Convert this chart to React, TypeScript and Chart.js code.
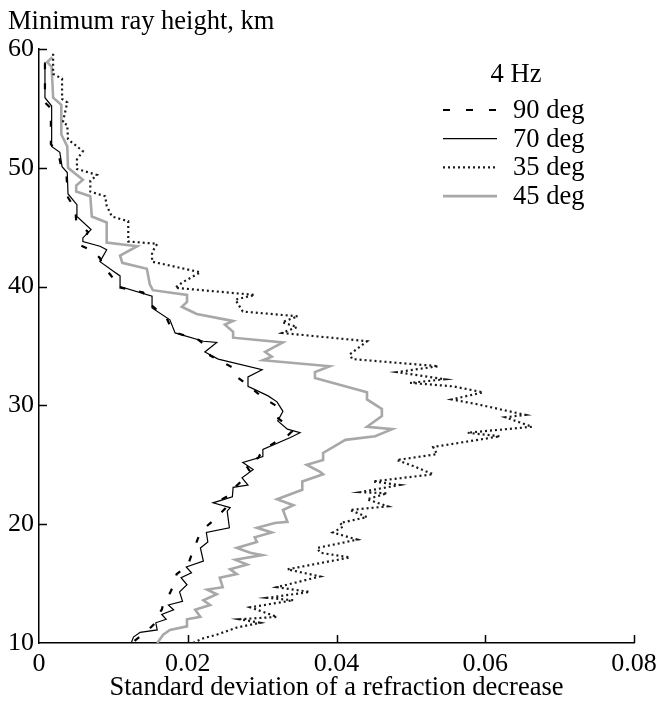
import React, { useEffect, useRef } from 'react';
import { Chart, registerables } from 'chart.js';

Chart.register(...registerables);

const FONT = "'Liberation Serif', 'Times New Roman', serif";

// Axis / legend texts
const yAxisTitle = 'Minimum ray height, km';
const xAxisTitle = 'Standard deviation of a refraction decrease';
const legendTitle = '4 Hz';
const seriesLabels = ['90 deg', '70 deg', '35 deg', '45 deg'];

// Minimum ray height (km) and standard deviation for each zenith angle
const heights90 = [58.8, 55.5, 55.0, 52.0, 51.0, 50.0, 49.3, 47.5, 46.5, 45.5, 44.6, 44.0, 43.5, 43.0, 42.4, 41.8, 41.0, 40.5, 40.0, 39.5, 38.5, 37.3, 36.2, 35.5, 34.8, 34.2, 33.2, 32.6, 31.5, 30.7, 30.0, 29.2, 28.5, 27.8, 27.5, 27.0, 26.2, 25.6, 25.0, 24.5, 23.8, 23.2, 22.5, 21.9, 21.3, 20.5, 19.8, 19.0, 18.2, 17.4, 16.5, 15.8, 15.0, 14.2, 13.5, 12.8, 12.2, 11.6, 11.0, 10.5, 10.0];
const values90 = [0.0008, 0.0008, 0.0016, 0.0016, 0.0027, 0.0030, 0.0037, 0.0039, 0.0049, 0.0050, 0.0066, 0.0060, 0.0055, 0.0072, 0.0082, 0.0085, 0.0096, 0.0102, 0.0103, 0.0140, 0.0150, 0.0172, 0.0180, 0.0215, 0.0228, 0.0230, 0.0260, 0.0262, 0.0285, 0.0300, 0.0318, 0.0316, 0.0330, 0.0340, 0.0335, 0.0320, 0.0300, 0.0295, 0.0278, 0.0283, 0.0275, 0.0265, 0.0258, 0.0240, 0.0250, 0.0238, 0.0225, 0.0215, 0.0210, 0.0205, 0.0200, 0.0185, 0.0182, 0.0176, 0.0168, 0.0165, 0.0158, 0.0155, 0.0145, 0.0135, 0.0125];

const heights70 = [58.9, 55.9, 55.2, 51.8, 51.3, 50.1, 49.6, 47.8, 46.9, 45.9, 44.8, 44.1, 43.8, 43.4, 43.1, 42.1, 41.3, 40.9, 40.0, 39.2, 38.2, 37.2, 36.1, 35.4, 35.3, 34.5, 33.9, 33.0, 32.4, 31.6, 30.8, 30.3, 29.5, 28.7, 28.0, 27.7, 27.3, 26.3, 25.7, 25.2, 24.6, 23.9, 23.3, 23.1, 22.3, 21.8, 21.4, 21.1, 19.7, 19.3, 18.5, 18.0, 16.9, 16.4, 15.9, 15.5, 14.9, 14.3, 13.5, 13.2, 12.8, 12.4, 12.0, 11.7, 11.1, 10.9, 10.5, 10.0];
const values70 = [0.0008, 0.0008, 0.0017, 0.0017, 0.0028, 0.0031, 0.0038, 0.0039, 0.0051, 0.0051, 0.0070, 0.0059, 0.0059, 0.0082, 0.0091, 0.0082, 0.0100, 0.0109, 0.0109, 0.0152, 0.0152, 0.0176, 0.0183, 0.0221, 0.0239, 0.0223, 0.0241, 0.0300, 0.0281, 0.0281, 0.0308, 0.0320, 0.0328, 0.0321, 0.0334, 0.0351, 0.0338, 0.0301, 0.0301, 0.0274, 0.0288, 0.0273, 0.0281, 0.0261, 0.0260, 0.0234, 0.0257, 0.0253, 0.0256, 0.0225, 0.0227, 0.0217, 0.0221, 0.0198, 0.0205, 0.0191, 0.0199, 0.0189, 0.0193, 0.0174, 0.0181, 0.0165, 0.0171, 0.0157, 0.0159, 0.0136, 0.0127, 0.0124];

const heights35 = [59.6, 57.9, 57.5, 55.8, 55.5, 53.8, 53.6, 52.4, 51.4, 50.7, 49.9, 49.4, 48.9, 48.0, 47.6, 46.8, 45.9, 45.5, 43.8, 43.6, 42.9, 42.1, 41.2, 40.4, 39.9, 39.3, 38.9, 37.9, 37.5, 37.0, 36.6, 36.1, 35.4, 34.3, 33.9, 33.3, 32.8, 32.2, 31.9, 31.6, 31.1, 30.5, 30.1, 29.2, 29.0, 28.2, 27.7, 27.4, 26.5, 25.9, 25.4, 24.9, 24.2, 23.6, 23.3, 22.7, 22.6, 22.1, 21.5, 21.2, 20.6, 20.1, 19.8, 19.3, 18.7, 18.0, 17.6, 17.2, 16.2, 15.6, 14.7, 14.3, 13.8, 13.6, 13.0, 12.2, 12.0, 11.7, 11.3, 10.7, 10.4, 10.0];
const values35 = [0.0019, 0.0019, 0.0031, 0.0031, 0.0038, 0.0032, 0.0038, 0.0039, 0.0059, 0.0051, 0.0051, 0.0078, 0.0069, 0.0069, 0.0089, 0.0091, 0.0098, 0.0120, 0.0120, 0.0159, 0.0152, 0.0152, 0.0217, 0.0194, 0.0183, 0.0290, 0.0264, 0.0274, 0.0348, 0.0327, 0.0347, 0.0327, 0.0441, 0.0418, 0.0421, 0.0537, 0.0481, 0.0546, 0.0499, 0.0557, 0.0597, 0.0555, 0.0589, 0.0654, 0.0627, 0.0663, 0.0576, 0.0620, 0.0530, 0.0535, 0.0481, 0.0503, 0.0530, 0.0449, 0.0485, 0.0432, 0.0468, 0.0441, 0.0469, 0.0418, 0.0441, 0.0405, 0.0409, 0.0395, 0.0428, 0.0374, 0.0378, 0.0418, 0.0334, 0.0378, 0.0320, 0.0364, 0.0307, 0.0342, 0.0284, 0.0320, 0.0270, 0.0297, 0.0266, 0.0239, 0.0221, 0.0207];

const heights45 = [59.3, 58.9, 58.5, 55.9, 55.3, 52.8, 51.8, 50.0, 49.0, 48.5, 48.0, 47.6, 45.9, 45.4, 43.7, 43.4, 42.6, 42.0, 41.5, 40.2, 39.7, 39.3, 38.7, 38.3, 37.7, 37.2, 37.1, 36.8, 36.2, 35.7, 35.3, 34.5, 34.1, 33.8, 33.3, 32.8, 32.3, 31.1, 30.5, 29.7, 29.1, 28.2, 28.0, 27.4, 27.1, 26.0, 25.4, 25.0, 24.4, 24.2, 23.6, 22.9, 22.1, 21.6, 21.2, 20.2, 20.1, 19.7, 19.3, 18.9, 18.5, 18.0, 17.6, 17.4, 17.0, 16.6, 16.2, 15.8, 15.5, 14.7, 14.5, 14.1, 13.6, 13.2, 12.8, 12.2, 12.0, 11.4, 11.1, 10.7, 10.0];
const values45 = [0.0018, 0.0011, 0.0017, 0.0019, 0.0030, 0.0030, 0.0038, 0.0039, 0.0059, 0.0050, 0.0050, 0.0069, 0.0071, 0.0091, 0.0091, 0.0132, 0.0109, 0.0112, 0.0145, 0.0149, 0.0153, 0.0199, 0.0199, 0.0192, 0.0212, 0.0253, 0.0261, 0.0250, 0.0261, 0.0261, 0.0328, 0.0304, 0.0313, 0.0301, 0.0391, 0.0371, 0.0371, 0.0441, 0.0441, 0.0461, 0.0461, 0.0441, 0.0475, 0.0452, 0.0412, 0.0382, 0.0382, 0.0360, 0.0378, 0.0382, 0.0354, 0.0354, 0.0320, 0.0342, 0.0328, 0.0334, 0.0317, 0.0293, 0.0313, 0.0290, 0.0293, 0.0266, 0.0284, 0.0300, 0.0264, 0.0280, 0.0257, 0.0266, 0.0243, 0.0247, 0.0226, 0.0239, 0.0221, 0.0230, 0.0210, 0.0217, 0.0199, 0.0199, 0.0176, 0.0167, 0.0159];

const toPoints = (heights: number[], values: number[]) =>
  heights.map((h, i) => ({ x: values[i], y: h }));

const TEXT_SIZE = 26.5;

const inwardTicks = {
  id: 'inwardTicks',
  afterDraw(chart: any) {
    const { ctx, chartArea, scales } = chart;
    const len = 8;
    ctx.save();
    ctx.strokeStyle = '#000';
    ctx.lineWidth = 1.5;
    ctx.beginPath();
    scales.x.ticks.forEach((t: any) => {
      if (Math.abs(t.value) < 1e-9) return;
      const px = Math.round(scales.x.getPixelForValue(t.value)) + 0.5;
      ctx.moveTo(px, chartArea.bottom);
      ctx.lineTo(px, chartArea.bottom - len);
    });
    scales.y.ticks.forEach((t: any) => {
      if (Math.abs(t.value - scales.y.min) < 1e-9) return;
      const py = Math.round(scales.y.getPixelForValue(t.value)) + 0.5;
      ctx.moveTo(chartArea.left, py);
      ctx.lineTo(chartArea.left + len, py);
    });
    ctx.stroke();
    ctx.restore();
  },
};

const yTitlePlugin = {
  id: 'yTitlePlugin',
  afterDraw(chart: any) {
    const { ctx } = chart;
    ctx.save();
    ctx.fillStyle = '#000';
    ctx.font = `${TEXT_SIZE}px ${FONT}`;
    ctx.textAlign = 'left';
    ctx.textBaseline = 'alphabetic';
    ctx.fillText(yAxisTitle, 8, 29);
    ctx.restore();
  },
};

const legendPlugin = {
  id: 'customLegend',
  afterDraw(chart: any) {
    const { ctx } = chart;
    const datasets = chart.data.datasets;
    ctx.save();
    ctx.fillStyle = '#000';
    ctx.font = `${TEXT_SIZE}px ${FONT}`;
    ctx.textBaseline = 'alphabetic';
    ctx.textAlign = 'center';
    ctx.fillText(legendTitle, 516, 82);
    ctx.textAlign = 'left';
    const x0 = 443;
    const x1 = 497;
    datasets.forEach((ds: any, i: number) => {
      const base = 118 + i * 28.7;
      const ly = base - 8;
      ctx.save();
      ctx.strokeStyle = ds.borderColor;
      ctx.lineWidth = ds.borderWidth;
      ctx.setLineDash(ds.legendDash || ds.borderDash || []);
      ctx.beginPath();
      ctx.moveTo(x0, ly);
      ctx.lineTo(x1, ly);
      ctx.stroke();
      ctx.restore();
      ctx.fillText(ds.label, 513, base);
    });
    ctx.restore();
  },
};

export default function App() {
  const ref = useRef<HTMLCanvasElement>(null);
  useEffect(() => {
    const canvas = ref.current;
    if (!canvas) return;
    const tickFont = { family: FONT, size: 26 };
    const chart = new Chart(canvas, {
      type: 'scatter',
      data: {
        datasets: [
          {
            label: seriesLabels[0],
            data: toPoints(heights90, values90),
            borderColor: '#000',
            borderWidth: 2.2,
            borderDash: [6, 14],
            legendDash: [7, 16],
            showLine: true,
            pointRadius: 0,
          } as any,
          {
            label: seriesLabels[1],
            data: toPoints(heights70, values70),
            borderColor: '#000',
            borderWidth: 1.2,
            showLine: true,
            pointRadius: 0,
          },
          {
            label: seriesLabels[2],
            data: toPoints(heights35, values35),
            borderColor: '#1a1a1a',
            borderWidth: 2.2,
            borderDash: [2, 3],
            showLine: true,
            pointRadius: 0,
          },
          {
            label: seriesLabels[3],
            data: toPoints(heights45, values45),
            borderColor: '#a8a8a8',
            borderWidth: 2.6,
            showLine: true,
            pointRadius: 0,
          },
        ],
      },
      options: {
        animation: false,
        responsive: true,
        maintainAspectRatio: false,
        events: [],
        layout: { padding: { left: 0, top: 49, right: 26, bottom: 0 } },
        plugins: {
          legend: { display: false },
          tooltip: { enabled: false },
          title: { display: false },
        },
        scales: {
          x: {
            type: 'linear',
            min: 0,
            max: 0.08,
            ticks: {
              stepSize: 0.02,
              padding: 6,
              color: '#000',
              font: tickFont,
              autoSkip: false,
              maxRotation: 0,
              callback: (v: any) => (Math.abs(Number(v)) < 1e-9 ? '0' : Number(v).toFixed(2)),
            },
            grid: { display: false, drawTicks: false },
            border: { display: true, color: '#000', width: 1.5 },
            title: {
              display: true,
              text: xAxisTitle,
              color: '#000',
              font: { family: FONT, size: TEXT_SIZE },
              padding: { top: 0, bottom: 0 },
            },
            afterFit: (s: any) => {
              s.height = 61;
              s.paddingLeft = 0;
              s.paddingRight = 0;
            },
          },
          y: {
            type: 'linear',
            min: 10,
            max: 60,
            ticks: {
              stepSize: 10,
              padding: 5,
              color: '#000',
              font: tickFont,
              autoSkip: false,
            },
            grid: { display: false, drawTicks: false },
            border: { display: true, color: '#000', width: 1.5 },
            afterFit: (s: any) => {
              s.width = 39;
              s.paddingTop = 0;
              s.paddingBottom = 0;
            },
          },
        },
      } as any,
      plugins: [inwardTicks, yTitlePlugin, legendPlugin],
    });
    return () => chart.destroy();
  }, []);
  return (
    <div style={{ position: 'fixed', left: 0, top: 0, width: 660, height: 704, background: '#fff' }}>
      <canvas ref={ref} style={{ display: 'block' }} />
    </div>
  );
}
